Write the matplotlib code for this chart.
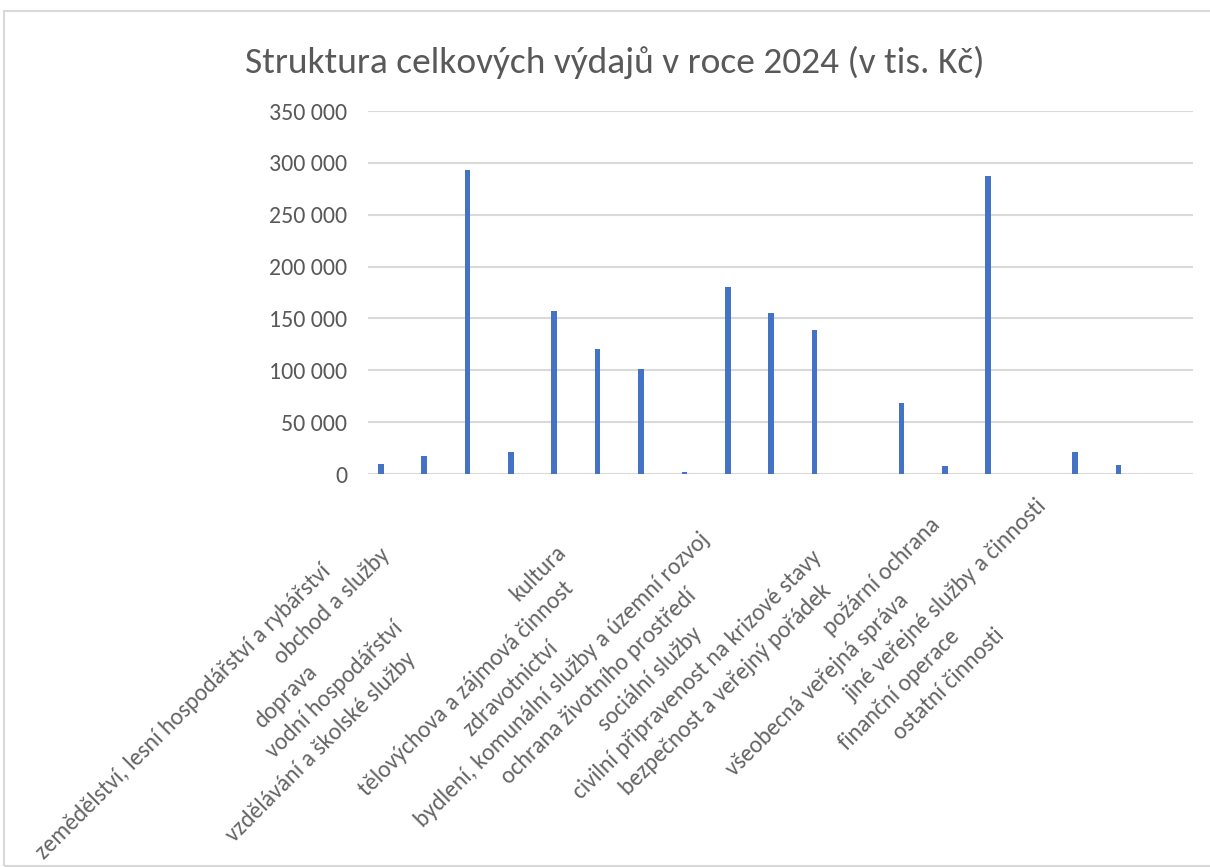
import matplotlib
matplotlib.use('Agg')
import matplotlib.pyplot as plt
import numpy as np
from matplotlib.patches import Rectangle

# ---------------- data ----------------
categories = [
    'zemědělství, lesní hospodářství a rybářství',
    'obchod a služby',
    'doprava',
    'vodní hospodářství',
    'vzdělávání a školské služby',
    'kultura',
    'tělovýchova a zájmová činnost',
    'zdravotnictví',
    'bydlení, komunální služby a územní rozvoj',
    'ochrana životního prostředí',
    'sociální služby',
    'civilní připravenost na krizové stavy',
    'bezpečnost a veřejný pořádek',
    'požární ochrana',
    'všeobecná veřejná správa',
    'jiné veřejné služby a činnosti',
    'finanční operace',
    'ostatní činnosti',
]
values = [9600, 17600, 293000, 21300, 157400, 120200, 100900, 2000, 180600,
          154900, 138800, 0, 68000, 7500, 287500, 0, 21500, 8700]
yticks = [0, 50000, 100000, 150000, 200000, 250000, 300000, 350000]
ytick_labels = ['0', '50 000', '100 000', '150 000', '200 000', '250 000',
                '300 000', '350 000']
title = 'Struktura celkových výdajů v roce 2024 (v tis. Kč)'

# ---------------- layout ----------------
W, H = 1210, 867
FONT = ['Carlito', 'Lato', 'DejaVu Sans']
plt.rcParams['font.family'] = FONT
TXT = '#595959'
LBL = '#656565'
GRID = '#d9d9d9'
BAR = '#4472C4'

# offsets of label centres along the 45° text direction (px)
label_along = [-528, -274, -411, -355, -427, -35, -222, -178, -117, -87, -29,
               23, 36, 305, 132, 346, 209, 264]

fig = plt.figure(figsize=(W / 100, H / 100), dpi=100)
fig.patch.set_facecolor('white')

# chart frame
fig.patches.append(Rectangle((4 / W, 1 - 866 / H), (1220 - 4) / W, (866 - 11) / H,
                             transform=fig.transFigure, fill=False,
                             edgecolor=GRID, linewidth=1.5, clip_on=False))

x0, x1, ytop, ybot = 368, 1193, 111, 474
ax = fig.add_axes([x0 / W, 1 - ybot / H, (x1 - x0) / W, (ybot - ytop) / H])
x = np.arange(len(categories))
step = 43.39
ax.set_xlim(-0.293, -0.293 + (x1 - x0) / step)
ax.set_ylim(0, 350000)
for yv in yticks:
    ax.axhline(yv, color=GRID, linewidth=1.5, zorder=0)
ax.bar(x, values, width=0.13, color=BAR, zorder=2)
for s in ax.spines.values():
    s.set_visible(False)
ax.set_xticks([])
ax.set_yticks(yticks)
ax.set_yticklabels(ytick_labels)
ax.tick_params(axis='y', length=0, pad=15, colors=TXT)

renderer = fig.canvas.get_renderer()

def fit_size(text_obj, target_px):
    text_obj.set_fontsize(20)
    w = text_obj.get_window_extent(renderer).width
    text_obj.set_fontsize(20 * target_px / w)

# y tick label size fitted to reference width
probe = fig.text(0, 0, '350 000')
fit_size(probe, 78)
ytsize = probe.get_fontsize()
probe.remove()
for lab in ax.get_yticklabels():
    lab.set_fontsize(ytsize)

# title
t = fig.text(615 / W, 1 - 62 / H, title, ha='center', va='center', color=TXT)
fit_size(t, 740)

# category labels
probe = fig.text(0, 0, categories[0])
fit_size(probe, 405)
lsize = probe.get_fontsize()
probe.remove()
for i, (cat, u) in enumerate(zip(categories, label_along)):
    px, py = ax.transData.transform((i, 0))
    ytop_px = H - py
    s = px + ytop_px + 40
    cx = (s + u) / 2
    cy = (s - u) / 2
    fig.text(cx / W, 1 - cy / H, cat, rotation=45, rotation_mode='anchor',
             ha='center', va='center', color=LBL, fontsize=lsize)

fig.savefig('out.png', dpi=100, facecolor='white')
